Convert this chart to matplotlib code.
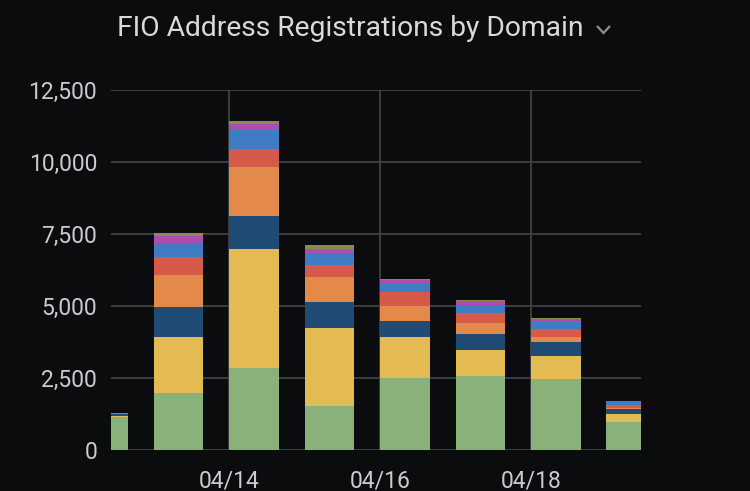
import datetime as dt
import matplotlib
matplotlib.use('Agg')
from matplotlib import pyplot as plt
from matplotlib.lines import Line2D
import matplotlib.dates as mdates
import numpy as np

plt.rcParams['font.family'] = ['Roboto', 'DejaVu Sans']

# daily registrations, one list per domain (stacked bottom -> top)
days = ['2020-04-12', '2020-04-13', '2020-04-14', '2020-04-15',
        '2020-04-16', '2020-04-17', '2020-04-18', '2020-04-19']
green  = [1150, 1970, 2860, 1530, 2510, 2570, 2480, 965]
yellow = [25, 1940, 4110, 2700, 1410, 900, 800, 275]
navy   = [60, 1065, 1160, 925, 565, 555, 485, 175]
orange = [10, 1090, 1690, 850, 530, 370, 150, 60]
red    = [5, 635, 635, 420, 475, 345, 280, 80]
blue   = [12, 500, 640, 405, 290, 290, 265, 105]
purple = [5, 230, 230, 150, 115, 130, 105, 35]
olive  = [5, 110, 115, 130, 50, 45, 35, 15]

series = [green, yellow, navy, orange, red, blue, purple, olive]
colors = ['#8AB17A', '#E4BB52', '#1F4B74', '#E38A4A', '#D65A4A',
          '#3F7CC3', '#AE4DAE', '#8A8C4E']

bg = '#0B0C0E'
txt = '#C9CBD0'
grid = '#444548'

x = [dt.datetime.strptime(d, '%Y-%m-%d') for d in days]

fig = plt.figure(figsize=(7.5, 4.91), dpi=100, facecolor=bg)
ax = fig.add_axes([111/750, 41/491, 530/750, 360/491])
ax.set_facecolor(bg)

bottom = np.zeros(len(days))
for vals, c in zip(series, colors):
    ax.bar(x, vals, width=0.662, bottom=bottom, align='edge', color=c,
           linewidth=0, zorder=3)
    bottom += np.array(vals)

base = dt.datetime(2020, 4, 14)
ax.set_xlim(base - dt.timedelta(days=1.563), base + dt.timedelta(days=5.457))
ax.set_ylim(0, 12500)

ax.set_xticks([dt.datetime(2020, 4, 14), dt.datetime(2020, 4, 16), dt.datetime(2020, 4, 18)])
ax.xaxis.set_major_formatter(mdates.DateFormatter('%m/%d'))
ax.set_yticks([0, 2500, 5000, 7500, 10000, 12500])
ax.set_yticklabels(['0', '2,500', '5,000', '7,500', '10,000', '12,500'])

ax.grid(True, color=grid, linewidth=1.2, zorder=0)
for s in ax.spines.values():
    s.set_visible(False)
ax.tick_params(length=0, colors=txt, labelsize=16.5)
ax.tick_params(axis='y', pad=10)
ax.tick_params(axis='x', pad=14)

fig.text(350/750, 1 - 36/491, 'FIO Address Registrations by Domain',
         color='#D8D9DC', fontsize=20.3, ha='center', va='baseline')

# dropdown chevron next to the title
fig.add_artist(Line2D([597/750, 603.5/750, 610/750],
                      [1 - 26/491, 1 - 33/491, 1 - 26/491],
                      color='#8E8F93', linewidth=1.6,
                      solid_joinstyle='miter', solid_capstyle='butt'))

fig.savefig('out.png', dpi=100, facecolor=bg)
